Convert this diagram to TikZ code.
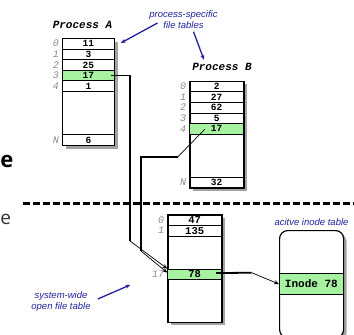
\documentclass[tikz,border=0pt]{standalone}
\usepackage{fontspec}
\usetikzlibrary{arrows.meta,positioning,calc,shadows}
\newfontfamily\cour{Liberation Mono}
\newfontfamily\arl{Liberation Sans}
\newfontfamily\slide{Open Sans}
\definecolor{hot}{HTML}{A6F2A0}
\definecolor{ink}{HTML}{22229C}
\definecolor{shade}{HTML}{A3A3A3}
\definecolor{idxgray}{HTML}{8A8A8A}
\tikzset{
  frame/.style={draw, line width=1.2pt, fill=white, inner sep=0pt, anchor=north west,
    drop shadow={shadow xshift=3pt, shadow yshift=-3pt, fill=shade, opacity=1}},
  cell/.style={draw, line width=0.8pt, minimum height=10.6pt, inner sep=0pt, anchor=north west,
    font=\cour\bfseries\fontsize{9.5}{9.5}\selectfont},
  hot/.style={cell, fill=hot},
  idx/.style={font=\cour\itshape\fontsize{10}{10}\selectfont, text=idxgray, anchor=east, inner sep=0pt, xshift=-3pt},
  title/.style={font=\cour\bfseries\itshape\fontsize{11}{11}\selectfont, inner sep=0pt},
  note/.style={font=\arl\itshape\fontsize{9.5}{11}\selectfont, text=ink, align=center, inner sep=0pt},
  pointer/.style={-{Stealth[length=5pt,width=4pt]}, ink, line width=1.3pt},
  wire/.style={line width=1.8pt},
  stub/.style={line width=0.7pt},
  lead/.style={-{Stealth[length=5pt,width=4pt]}, line width=0.7pt},
  sep/.style={line width=2.5pt, dash pattern=on 7pt off 3pt},
}
% #1 name, #2 x, #3 y, #4 width, #5 height, #6 rows: label/position/value/style
\newcommand{\filetab}[6]{%
  \node[frame, minimum width=#4pt, minimum height=#5pt] (#1) at (#2,#3) {};
  \foreach \k/\p/\v/\s in {#6} {%
    \node[\s, minimum width=#4pt] (#1\k) at (#2,{#3+10.6*\p}) {\v};
    \node[idx] at (#1\k.west) {\k};
  }}

\begin{document}
\begin{tikzpicture}[x=1pt,y=-1pt]
  \useasboundingbox (0,0) rectangle (354,335);

  % cropped slide text
  \node[font=\slide\bfseries\fontsize{22}{22}\selectfont, anchor=base west, inner sep=0pt] (slideA) at (0.3,167) {e};
  \node[font=\slide\fontsize{19}{19}\selectfont, text=black!80, anchor=base west, inner sep=0pt] (slideB) at (0.3,224) {e};

  % per-process tables
  \node[title] (titleA) at (82.5,24.5) {Process A};
  \filetab{A}{62}{38}{52}{107}{0/0/11/cell, 1/1/3/cell, 2/2/25/cell, 3/3/17/hot, 4/4/1/cell, N/9.09/6/cell}
  \node[title] (titleB) at (222,66.7) {Process B};
  \filetab{B}{189.3}{80.7}{54}{106.6}{0/0/2/cell, 1/1/27/cell, 2/2/62/cell, 3/3/5/cell, 4/4/17/hot, N/9.06/32/cell}

  \node[note] (psnote) at (183.5,19.5) {process-specific\\file tables};
  \draw[pointer] ($(psnote.center)+(-26,3.5)$) -- ($(A0.north east)+(6,5)$);
  \draw[pointer] ($(psnote.south)+(10,3)$) -- ($(titleB.north)+(-18,-3)$);

  % kernel side
  \coordinate (sepL) at (23,203.3);
  \coordinate (sepR) at (354,203.3);
  \draw[sep] (sepL) -- (sepR);

  \begin{scope}[cell/.append style={font=\cour\bfseries\fontsize{10.5}{10.5}\selectfont}]
    \filetab{O}{167.3}{214.3}{54}{107.4}{0/0/47/cell, 1/1/135/cell, 17/5.13/78/hot}
  \end{scope}
  \node[note] (sysnote) at (61,302) {system-wide\\open file table};
  \draw[pointer] ($(sysnote.east)+(7,-3)$) -- ($(O17.west)+(-37,10.5)$);

  \node[note] (inotitle) at (311.5,222.3) {acitve inode table};
  \node[frame, rounded corners=8pt, minimum width=64pt, minimum height=107pt] (inodes) at (279,230) {};
  \node[hot, minimum width=64pt, minimum height=20.7pt, font=\cour\bfseries\fontsize{11}{11}\selectfont] (I78) at (279,273.3) {Inode 78};

  % descriptor links
  \coordinate (aDown) at (130,241);
  \draw[wire] ($(A3.east)+(-4,0)$) -| (aDown);
  \draw[lead] (aDown) -- (O17.north west);

  \coordinate (bKnee) at (178,156.7);
  \coordinate (bDown) at (141,251);
  \draw[stub] ($(B4.center)+(-12,0.5)$) -- (bKnee);
  \draw[wire] (bKnee) -| (bDown);
  \draw[lead] (bDown) -- ($(O17.north west)+(0,4)$);

  \coordinate (cKnee) at (251.7,272.7);
  \draw[wire] ($(O17.east)+(-6,-1.3)$) -- (cKnee);
  \draw[lead] (cKnee) -- (I78.west);
\end{tikzpicture}
\end{document}
